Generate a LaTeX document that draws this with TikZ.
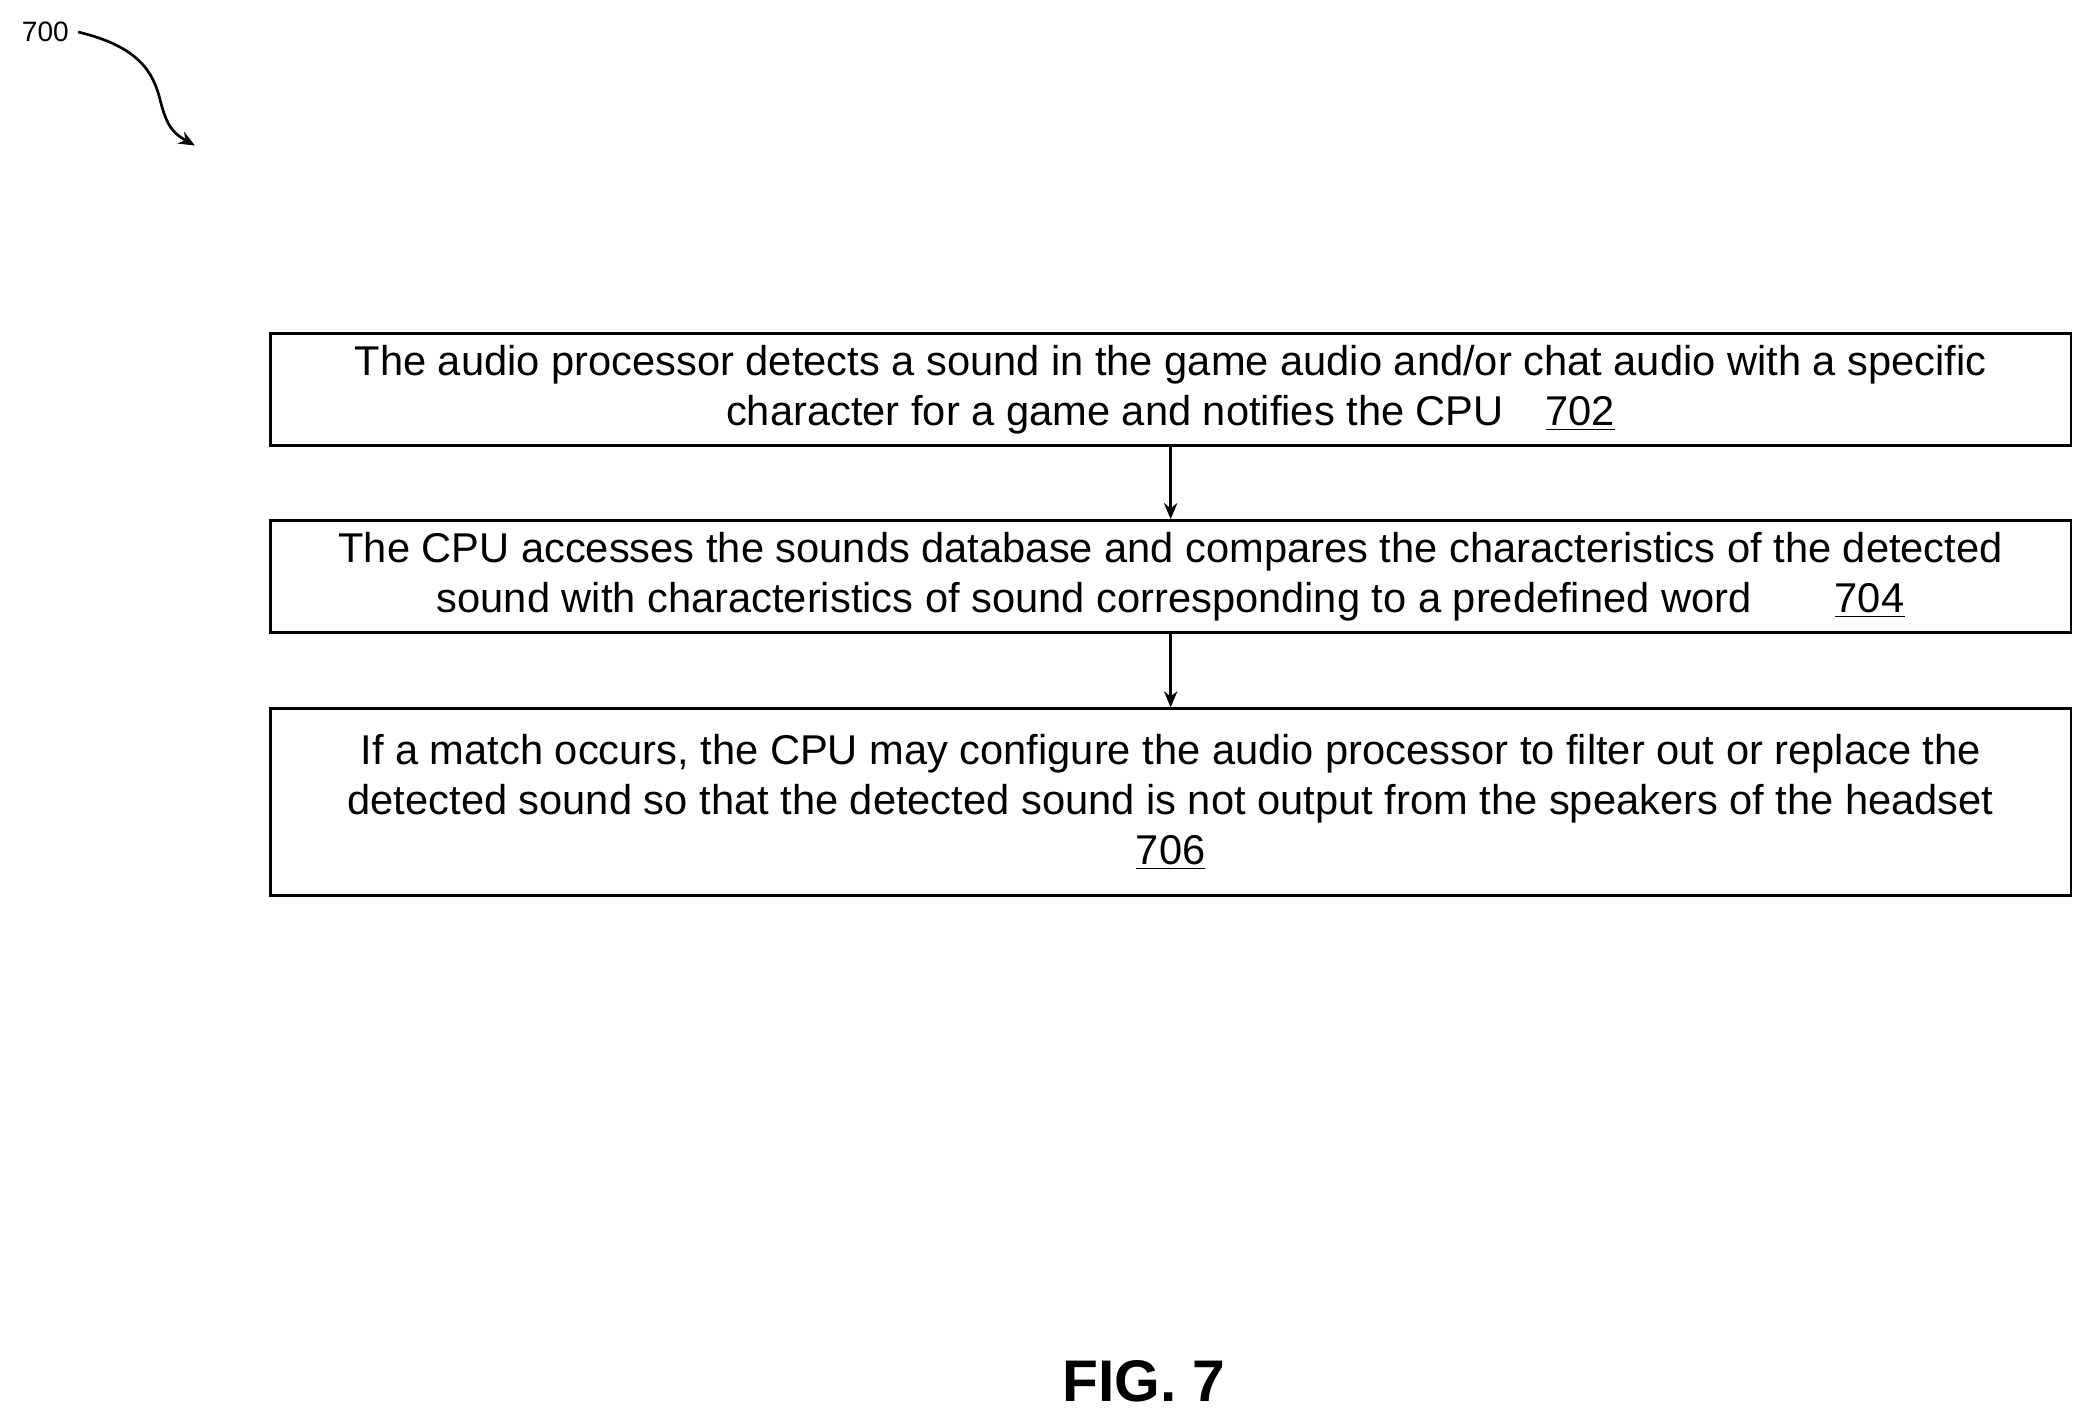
\documentclass[tikz,border=0pt]{standalone}
\usepackage{fontspec}
\setmainfont{Liberation Sans}
\usetikzlibrary{positioning,arrows.meta}
\begin{document}
\begin{tikzpicture}[x=0.5pt,y=0.5pt,yscale=-1,xscale=1,
  stepbox/.style={draw,line width=1.1pt,minimum width=674.5pt,align=center,font=\fontsize{15.6}{18.7}\selectfont,inner sep=0pt},
  flow/.style={-{Stealth[length=6pt,width=5pt]},line width=1pt}]
\useasboundingbox (0,0) rectangle (1568,1066);

% Text Node
\node (lbl) at (34,24) {\fontsize{10.5}{12}\selectfont 700};
\coordinate (tip) at (146,109);
\draw [flow] (lbl.east) .. controls (105,35) and (115,55) .. (120,75) .. controls (125,95) and (130,100) .. (tip);

% steps
\node [stepbox,minimum height=42pt] (s702) at (877,292) {The audio processor detects a sound in the game audio and/or chat audio with a specific\\character for a game and notifies the CPU\quad\underline{702}};
\node [stepbox,minimum height=42pt] (s704) at (877,432) {The CPU accesses the sounds database and compares the characteristics of the detected\\sound with characteristics of sound corresponding to a predefined word\qquad\underline{704}};
\node [stepbox,minimum height=70pt] (s706) at (877,601) {If a match occurs, the CPU may configure the audio processor to filter out or replace the\\detected sound so that the detected sound is not output from the speakers of the headset\\\underline{706}};

\draw [flow] (s702) -- (s704);
\draw [flow] (s704) -- (s706);

% Text Node
\node (fig) at (857,1035) {\fontsize{22}{26}\selectfont\bfseries FIG. 7};
\end{tikzpicture}
\end{document}
